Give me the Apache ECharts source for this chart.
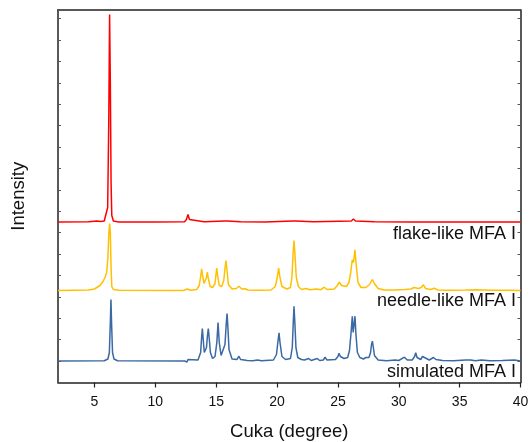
<!DOCTYPE html>
<html>
<head>
<meta charset="utf-8">
<script src="https://cdn.jsdelivr.net/npm/echarts@6/dist/echarts.min.js"></script>
<style>html,body{margin:0;padding:0;background:#fff;}#c{width:530px;height:442px;}</style>
</head>
<body>
<div id="c"></div>
<script>
// x: 2theta (degree); y: intensity (arbitrary, offset stacked)
var xTicks = [5, 10, 15, 20, 25, 30, 35, 40];
var seriesNames = ['flake-like MFA I', 'needle-like MFA I', 'simulated MFA I'];

var simulated = [
[2.0,21.5],[5.8,21.8],[6.1,23.5],[6.22,30],[6.3,60],[6.35,83],[6.4,60],[6.48,30],[6.6,23.5],[6.9,21.8],
[12.4,21.5],[12.6,20.5],[12.68,23],[12.8,21.5],
[13.5,22.5],[13.72,30],[13.8,45],[13.86,54],[13.92,45],[14.02,30],[14.1,28],[14.2,35],[14.28,47],[14.35,54],[14.42,45],[14.52,30],[14.7,24],
[14.9,26],[15.05,40],[15.15,60],[15.25,40],[15.4,27],[15.55,27],[15.72,38],[15.82,58],[15.89,69],[15.96,55],[16.05,33],[16.3,23.5],
[16.7,23],[16.87,26.3],[17.0,23],[17.3,22.5],[17.42,23.7],[17.55,22],[18.0,21.8],[18.4,22.5],[18.7,21.7],
[19.7,22.5],[19.95,28],[20.08,42],[20.16,49.7],[20.24,40],[20.4,26],[20.7,23],
[21.1,24],[21.25,35],[21.33,60],[21.39,76.3],[21.46,60],[21.55,35],[21.7,25],[22.0,23],[22.1,24],[22.25,22.5],[22.6,24],[22.8,22],[23.3,24],[23.5,22],
[23.8,22.5],[23.94,25.3],[24.1,22.5],[24.8,23],[25.0,26],[25.09,29.3],[25.2,26],[25.35,27],[25.5,24],[25.8,25],
[25.95,32],[26.08,50],[26.18,66.3],[26.25,50],[26.3,52],[26.4,66.3],[26.48,48],[26.6,30],[26.8,25],[27.1,23.5],[27.3,25],[27.45,24],[27.55,25],
[27.68,30],[27.76,38],[27.83,41.3],[27.9,36],[28.0,27],[28.3,22.5],
[29.0,21.8],[29.7,22.5],[30.0,22],[30.46,25.3],[30.7,22.5],[31.1,22.5],[31.3,26],[31.39,29.7],[31.5,25],[31.8,23],[31.95,26],[32.02,27.7],[32.1,24.5],[32.5,22.5],[32.85,25],[32.92,26.3],[33.05,23],[33.6,22],
[34.5,21.8],[35.5,22.5],[35.9,22.6],[36.3,21.8],[36.8,22.5],[37.5,21.7],[38.5,22],[39.5,22.4],[40,21.6]
];

var needle = [
[2.0,92],[4.5,92.5],[5.0,93.5],[5.45,97],[5.7,101],[5.86,105],[6.0,110],[6.1,125],[6.18,150],[6.24,159],[6.3,150],[6.36,115],[6.42,96],[6.55,93],[7.0,92.3],
[12.3,92],[12.63,93.5],[12.9,92.2],
[13.4,93],[13.6,97],[13.72,106],[13.8,113.7],[13.88,107],[14.0,99],[14.12,99],[14.2,105],[14.27,110.3],[14.35,104],[14.5,96],[14.7,95],[14.9,99],[14.98,108],[15.04,114.3],[15.1,108],[15.25,97],[15.45,96],[15.62,102],[15.72,114],[15.8,122],[15.88,113],[16.0,98],[16.3,93.5],
[16.65,94],[16.87,96.3],[17.1,93.5],[17.37,93.7],[17.6,92.5],[18.5,92.3],[19.5,92.5],[19.85,96],[20.0,104],[20.13,114.3],[20.22,106],[20.4,96],[20.8,93.5],[21.1,95],[21.22,105],[21.32,130],[21.39,142],[21.46,130],[21.58,105],[21.75,96],[22.0,93],[22.38,94],[22.7,92.8],[23.26,93.5],[23.6,92.8],[23.88,95.3],[24.1,93],[24.7,93.5],[24.95,97],[25.11,100.3],[25.3,97],[25.7,96],
[25.9,100],[26.05,110],[26.18,122.7],[26.28,120],[26.4,132.7],[26.5,118],[26.65,100],[26.9,95],[27.3,95],[27.6,98],[27.83,103],[28.0,99],[28.3,94],[28.8,92.5],[29.7,92.5],[30.5,93],[31.0,93.5],[31.25,95],[31.4,96.3],[31.6,94],[31.85,95],[32.02,97.7],[32.2,94],[32.6,93],[32.92,94.3],[33.2,92.5],[34.0,92.2],[35.5,92.5],[36.4,92.8],[37.5,92.2],[39,92.3],[40,92]
];

var flake = [
[2.0,160.5],[4.5,160.7],[5.2,161.5],[5.35,162],[5.5,161],[5.8,161.5],[5.95,163],[6.08,175],[6.17,260],[6.24,368],[6.3,300],[6.36,200],[6.42,167],[6.55,161.5],[7.0,160.6],
[10,160.5],[12.4,160.8],[12.55,163],[12.68,168],[12.8,163],[12.95,161],[14.0,160.8],[15.7,161.5],[15.8,163],[15.9,161.5],[17,160.7],[19,160.5],[21.3,161.5],[21.42,163],[21.55,161.5],[23,160.7],[26.1,161.5],[26.27,163.5],[26.45,161.5],[28,160.8],[31,160.6],[35,160.5],[40,160.6]
];

var chart = echarts.init(document.getElementById('c'), null, {renderer: 'canvas'});
var FONT = 'Liberation Sans, Arial, sans-serif';
var axisCol = '#222';
var option = {
  animation: false,
  backgroundColor: '#fff',
  grid: {left: 58, right: 9.5, top: 10, bottom: 59.5, containLabel: false, outerBoundsMode: 'none'},
  xAxis: [{
    type: 'value', min: 2, max: 40,
    name: 'Cuka (degree)', nameLocation: 'middle', nameGap: 40,
    nameTextStyle: {fontFamily: FONT, fontSize: 18.5, color: '#111'},
    axisLine: {onZero: false, lineStyle: {color: axisCol, width: 1.5}},
    axisTick: {show: true, length: 5, inside: false, customValues: xTicks, lineStyle: {color: axisCol, width: 1.2}},
    axisLabel: {customValues: xTicks, margin: 13, fontFamily: FONT, fontSize: 14, color: '#111'},
    splitLine: {show: false}
  }, {
    type: 'value', min: 2, max: 40, position: 'top',
    axisLine: {show: true, onZero: false, lineStyle: {color: axisCol, width: 1.5}},
    axisTick: {show: false}, axisLabel: {show: false}, splitLine: {show: false}
  }],
  yAxis: [{
    type: 'value', min: 0, max: 372.5, interval: 21.4,
    name: 'Intensity', nameLocation: 'middle', nameGap: 30,
    nameTextStyle: {fontFamily: FONT, fontSize: 18.5, color: '#111'},
    axisLine: {show: true, onZero: false, lineStyle: {color: axisCol, width: 1.5}},
    axisTick: {show: true, inside: true, length: 3, lineStyle: {color: '#555', width: 1}},
    axisLabel: {show: false}, splitLine: {show: false}
  }, {
    type: 'value', min: 0, max: 372.5, interval: 21.4, position: 'right',
    axisLine: {show: true, onZero: false, lineStyle: {color: axisCol, width: 1.5}},
    axisTick: {show: true, inside: true, length: 3, lineStyle: {color: '#555', width: 1}},
    axisLabel: {show: false}, splitLine: {show: false}
  }],
  series: [
    {name: seriesNames[2], type: 'line', data: simulated, showSymbol: false, lineStyle: {color: '#3A69A3', width: 1.5}, z: 3},
    {name: seriesNames[1], type: 'line', data: needle, showSymbol: false, lineStyle: {color: '#FFC000', width: 1.5}, z: 2},
    {name: seriesNames[0], type: 'line', data: flake, showSymbol: false, lineStyle: {color: '#FF0000', width: 1.5}, z: 4}
  ],
  graphic: [
    {type: 'text', x: 516, y: 234, style: {text: seriesNames[0], font: '18px ' + FONT, fill: '#111', align: 'right', verticalAlign: 'middle', textAlign: 'right', textVerticalAlign: 'middle'}},
    {type: 'text', x: 516, y: 301.5, style: {text: seriesNames[1], font: '18px ' + FONT, fill: '#111', align: 'right', verticalAlign: 'middle', textAlign: 'right', textVerticalAlign: 'middle'}},
    {type: 'text', x: 516, y: 372, style: {text: seriesNames[2], font: '18px ' + FONT, fill: '#111', align: 'right', verticalAlign: 'middle', textAlign: 'right', textVerticalAlign: 'middle'}}
  ]
};
chart.setOption(option);
</script>
</body>
</html>
